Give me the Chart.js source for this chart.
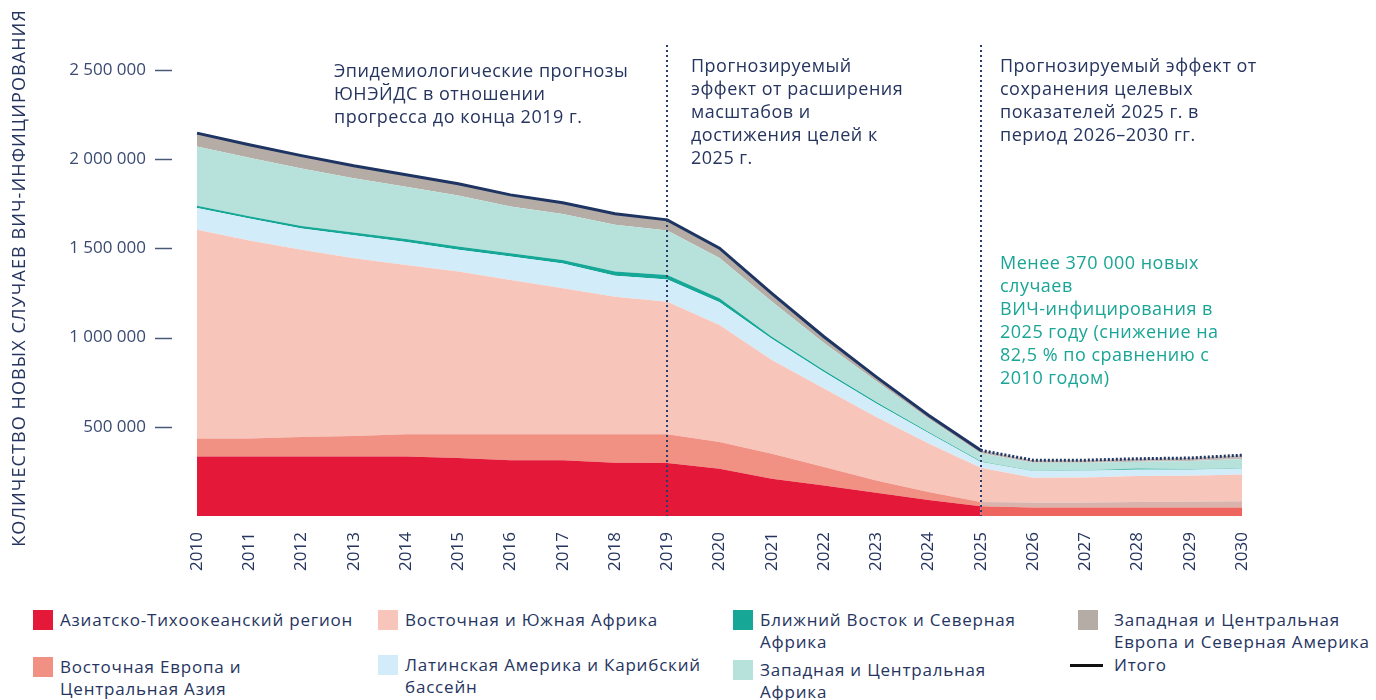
<!DOCTYPE html>
<html lang="ru">
<head>
<meta charset="utf-8">
<script src="https://cdn.jsdelivr.net/npm/chart.js@4.4.0/dist/chart.umd.min.js"></script>
<style>
  body { margin: 0; background: #fff; font-family: 'Open Sans', sans-serif; color: #26355f; }
  #wrap { position: relative; width: 1376px; height: 700px; overflow: hidden; }
  #chart-box { position: absolute; left: 0; top: 0; width: 1376px; height: 586px; }
  .legend-item { position: absolute; font-size: 17px; line-height: 22px; white-space: nowrap; letter-spacing: 0.8px; }
  .swatch { position: absolute; width: 20px; height: 20px; }
  .total-mark { position: absolute; width: 33px; height: 3px; background: #111; }
</style>
</head>
<body>
<div id="wrap">
  <div id="chart-box"><canvas id="chart"></canvas></div>
  <div id="legend"></div>
</div>
<script>
const years = ['2010', '2011', '2012', '2013', '2014', '2015', '2016', '2017', '2018', '2019', '2020',
  '2021', '2022', '2023', '2024', '2025', '2026', '2027', '2028', '2029', '2030'];
const yTicks = [500000, 1000000, 1500000, 2000000, 2500000];

// new infections by region, thousands
const asiaPacific = [334, 334, 334, 334, 334, 325, 312, 312, 299, 297, 265, 209, 171, 130, 90, 55, 48, 48, 48, 48, 48];
const easternEurope = [100, 100, 109, 114, 124, 133, 146, 146, 159, 161, 150, 140, 103, 69, 44, 24, 28, 28, 30, 33, 35];
const eastSouthAfrica = [1170, 1110, 1049, 997, 949, 912, 865, 818, 771, 743, 655, 525, 441, 356, 272, 192, 138, 140, 146, 144, 150];
const latinAmerica = [123, 123, 120, 129, 129, 123, 132, 139, 117, 124, 128, 119, 92, 76, 59, 32, 37, 37, 35, 34, 32];
const middleEast = [12, 13, 14, 15, 16, 17, 18, 20, 24, 26, 22, 12, 10, 8, 6, 4, 2, 4, 8, 4, 2];
const westCentralAfrica = [332, 328, 322, 304, 293, 286, 262, 258, 262, 249, 226, 198, 153, 116, 76, 45, 45, 41, 37, 45, 52];
const westEuropeNA = [75, 73, 72, 70, 68, 66, 65, 63, 62, 60, 55, 45, 35, 25, 18, 16, 15, 15, 17, 17, 22];
const totals = [2146, 2081, 2020, 1963, 1913, 1862, 1800, 1756, 1694, 1660, 1501, 1248, 1005, 780, 565, 368, 313, 313, 321, 325, 341];

const NAVY = '#26355f';
const TEAL_TEXT = '#1aa596';
const FONT = "'Open Sans', sans-serif";
const SPLIT = 15; // index of 2025

function formatNumber(value) {
  return value.toString().replace(/\B(?=(\d{3})+(?!\d))/g, ' ');
}

function k(arr) {
  return arr.map((v) => v * 1000);
}

function area(label, data, color, colorAfter, fill) {
  return {
    label: label,
    data: k(data),
    backgroundColor: color,
    borderWidth: 0,
    pointRadius: 0,
    fill: fill,
    stack: 'regions',
    segment: {
      backgroundColor: (ctx) => (ctx.p0DataIndex >= SPLIT ? colorAfter : undefined),
    },
  };
}

const series = [
  { label: 'Азиатско-Тихоокеанский регион', data: asiaPacific, color: '#e4193a', after: '#ee645e' },
  { label: 'Восточная Европа и Центральная Азия', data: easternEurope, color: '#f09183', after: '#dab3ac' },
  { label: 'Восточная и Южная Африка', data: eastSouthAfrica, color: '#f7c5ba', after: '#f7c5ba' },
  { label: 'Латинская Америка и Карибский бассейн', data: latinAmerica, color: '#d2edf9', after: '#d2edf9' },
  { label: 'Ближний Восток и Северная Африка', data: middleEast, color: '#17a797', after: '#5cbfb0' },
  { label: 'Западная и Центральная Африка', data: westCentralAfrica, color: '#b7e2dc', after: '#b7e2dc' },
  { label: 'Западная и Центральная Европа и Северная Америка', data: westEuropeNA, color: '#b6aca6', after: '#c6bbb6' },
];

const datasets = series.map((s, i) => area(s.label, s.data, s.color, s.after, i === 0 ? 'origin' : '-1'));
datasets.push({
  label: 'Итого',
  data: k(totals),
  borderColor: '#1e3462',
  borderWidth: 3,
  pointRadius: 0,
  fill: false,
  stack: 'total',
  order: -1,
  segment: {
    borderDash: (ctx) => (ctx.p0DataIndex >= SPLIT ? [2, 2] : undefined),
  },
});

const notes = [
  { x: 334, y: 72, color: NAVY, lines: ['Эпидемиологические прогнозы', 'ЮНЭЙДС в отношении', 'прогресса до конца 2019 г.'] },
  { x: 691, y: 67, color: NAVY, lines: ['Прогнозируемый', 'эффект от расширения', 'масштабов и', 'достижения целей к', '2025 г.'] },
  { x: 1000, y: 67, color: NAVY, lines: ['Прогнозируемый эффект от', 'сохранения целевых', 'показателей 2025 г. в', 'период 2026–2030 гг.'] },
  { x: 1000, y: 264, color: TEAL_TEXT, lines: ['Менее 370 000 новых', 'случаев', 'ВИЧ-инфицирования в', '2025 году (снижение на', '82,5 % по сравнению с', '2010 годом)'] },
];

const decorations = {
  id: 'decorations',
  afterDatasetsDraw(chart) {
    const { ctx, chartArea, scales } = chart;
    ctx.save();

    // dotted dividers at 2019 and 2025
    ctx.strokeStyle = '#2b3d6c';
    ctx.lineWidth = 2;
    ctx.setLineDash([2, 3]);
    [9, SPLIT].forEach((i) => {
      const x = Math.round(scales.x.getPixelForValue(i));
      ctx.beginPath();
      ctx.moveTo(x, 45);
      ctx.lineTo(x, chartArea.bottom);
      ctx.stroke();
    });
    ctx.setLineDash([]);

    // y tick dashes
    ctx.strokeStyle = '#4a5878';
    ctx.lineWidth = 1.5;
    yTicks.forEach((v) => {
      const y = Math.round(scales.y.getPixelForValue(v)) + 0.5;
      ctx.beginPath();
      ctx.moveTo(chartArea.left - 42, y);
      ctx.lineTo(chartArea.left - 25, y);
      ctx.stroke();
    });

    // notes
    ctx.font = '18px ' + FONT;
    ctx.letterSpacing = '0.5px';
    ctx.textBaseline = 'middle';
    ctx.textAlign = 'left';
    notes.forEach((n) => {
      ctx.fillStyle = n.color;
      n.lines.forEach((line, j) => ctx.fillText(line, n.x, n.y + j * 23));
    });

    // axis title
    ctx.fillStyle = NAVY;
    ctx.font = '18px ' + FONT;
    ctx.letterSpacing = '1.1px';
    ctx.textAlign = 'center';
    ctx.translate(20, 278);
    ctx.rotate(-Math.PI / 2);
    ctx.fillText('КОЛИЧЕСТВО НОВЫХ СЛУЧАЕВ ВИЧ-ИНФИЦИРОВАНИЯ', 0, 0);
    ctx.restore();
  },
};

new Chart(document.getElementById('chart'), {
  type: 'line',
  data: { labels: years, datasets: datasets },
  options: {
    responsive: true,
    maintainAspectRatio: false,
    animation: false,
    elements: { line: { tension: 0 } },
    layout: { padding: { top: 70, right: 134, left: 0, bottom: 0 } },
    plugins: {
      legend: { display: false },
      tooltip: { enabled: false },
    },
    scales: {
      x: {
        grid: { display: false },
        border: { display: false },
        ticks: {
          color: NAVY,
          font: { family: FONT, size: 17 },
          minRotation: 90,
          maxRotation: 90,
          autoSkip: false,
          padding: 8,
        },
        afterFit: (scale) => { scale.height = 70; },
      },
      y: {
        stacked: true,
        min: 0,
        max: 2500000,
        grid: { display: false, drawTicks: false },
        border: { display: false },
        afterBuildTicks: (scale) => { scale.ticks = yTicks.map((v) => ({ value: v })); },
        ticks: {
          color: '#3a4a72',
          font: { family: FONT, size: 17 },
          padding: 51,
          callback: (v) => formatNumber(v),
        },
        afterFit: (scale) => { scale.width = 197; },
      },
    },
  },
  plugins: [decorations],
});

// legend
const legendItems = [
  { s: 0, x: 33, y: 609, lines: ['Азиатско-Тихоокеанский регион'] },
  { s: 1, x: 33, y: 656, lines: ['Восточная Европа и', 'Центральная Азия'] },
  { s: 2, x: 378, y: 609, lines: ['Восточная и Южная Африка'] },
  { s: 3, x: 378, y: 654, lines: ['Латинская Америка и Карибский', 'бассейн'] },
  { s: 4, x: 733, y: 609, lines: ['Ближний Восток и Северная', 'Африка'] },
  { s: 5, x: 733, y: 659, lines: ['Западная и Центральная', 'Африка'] },
  { s: 6, x: 1078, y: 609, lines: ['Западная и Центральная', 'Европа и Северная Америка'] },
];
const legend = document.getElementById('legend');
legendItems.forEach((it) => {
  const sw = document.createElement('div');
  sw.className = 'swatch';
  sw.style.left = it.x + 'px';
  sw.style.top = (it.y + 1) + 'px';
  sw.style.background = series[it.s].color;
  legend.appendChild(sw);
  const tx = document.createElement('div');
  tx.className = 'legend-item';
  tx.style.left = (it.x + (it.s === 6 ? 36 : 27)) + 'px';
  tx.style.top = it.y + 'px';
  tx.innerHTML = it.lines.join('<br>');
  legend.appendChild(tx);
});
const tm = document.createElement('div');
tm.className = 'total-mark';
tm.style.left = '1070px';
tm.style.top = '664px';
legend.appendChild(tm);
const tt = document.createElement('div');
tt.className = 'legend-item';
tt.style.left = '1114px';
tt.style.top = '654px';
tt.textContent = 'Итого';
legend.appendChild(tt);
</script>
</body>
</html>
